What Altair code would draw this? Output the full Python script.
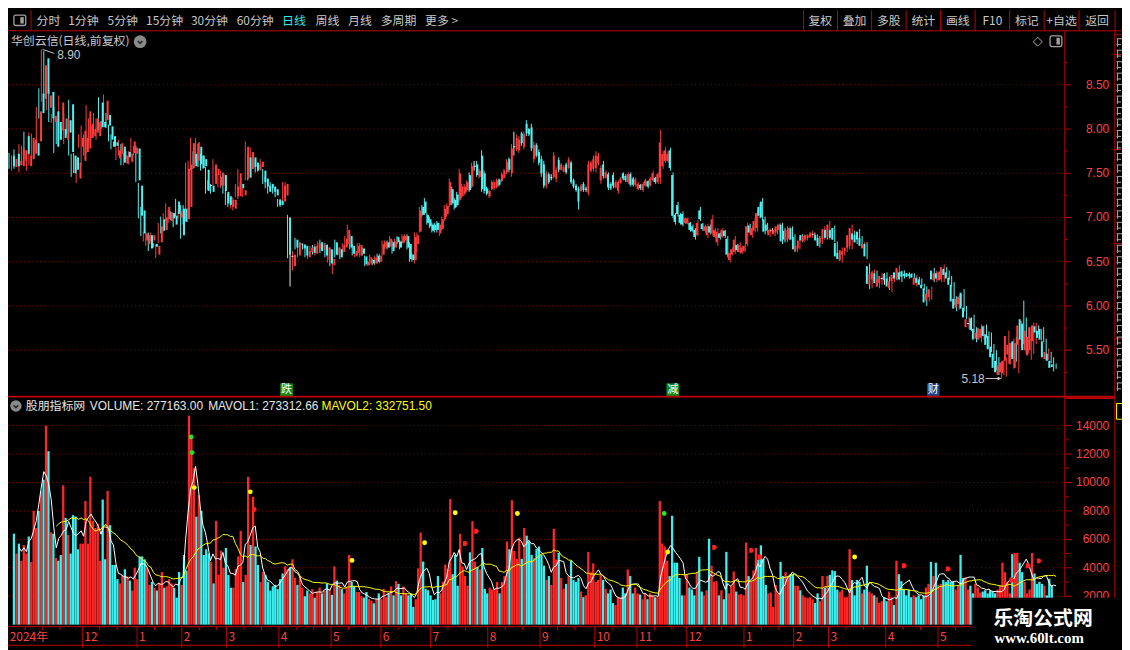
import altair as alt
import pandas as pd

# ---------------------------------------------------------------- data
# daily candles, index 0 = first bar on the left
OPEN = [
    7.70, 7.57, 7.72, 7.59, 7.58, 7.64, 7.92, 7.58, 7.66, 7.72,
    7.84, 7.86, 8.40, 8.34, 8.80, 8.24, 8.42, 8.08, 8.20, 8.08,
    7.98, 8.00, 7.88, 8.10, 8.28, 7.70, 7.68, 7.44, 7.80, 7.64,
    7.74, 7.78, 7.90, 7.92, 7.96, 7.92, 8.30, 8.08, 8.10, 8.16,
    8.03, 7.92, 7.85, 7.67, 7.72, 7.80, 7.61, 7.74, 7.63, 7.73,
    7.72, 7.78, 7.36, 7.08, 6.74, 6.70, 6.80, 6.74, 6.70, 6.58,
    6.72, 6.98, 6.86, 6.98, 6.96, 7.05, 7.02, 7.18, 7.00, 7.10,
    7.10, 6.98, 7.12, 7.56, 7.72, 7.64, 7.80, 7.70, 7.66, 7.54,
    7.36, 7.36, 7.38, 7.48, 7.36, 7.36, 7.48, 7.29, 7.24, 7.12,
    7.10, 7.24, 7.24, 7.38, 7.25, 7.44, 7.68, 7.55, 7.68, 7.62,
    7.53, 7.57, 7.53, 7.44, 7.36, 7.38, 7.35, 7.32, 7.20, 7.19,
    7.18, 7.25, 7.00, 6.56, 6.45, 6.75, 6.57, 6.70, 6.69, 6.68,
    6.55, 6.61, 6.67, 6.59, 6.65, 6.72, 6.63, 6.69, 6.52, 6.64,
    6.46, 6.72, 6.58, 6.64, 6.61, 6.66, 6.70, 6.79, 6.68, 6.56,
    6.60, 6.57, 6.65, 6.56, 6.46, 6.48, 6.52, 6.48, 6.57, 6.50,
    6.58, 6.66, 6.72, 6.67, 6.72, 6.66, 6.78, 6.73, 6.71, 6.74,
    6.79, 6.70, 6.58, 6.52, 6.70, 6.84, 7.12, 7.18, 7.03, 6.98,
    6.92, 6.92, 6.94, 6.82, 6.87, 6.98, 7.04, 7.14, 7.32, 7.20,
    7.26, 7.20, 7.24, 7.27, 7.31, 7.48, 7.35, 7.58, 7.60, 7.46,
    7.70, 7.50, 7.33, 7.24, 7.32, 7.33, 7.35, 7.43, 7.41, 7.45,
    7.51, 7.66, 7.50, 7.80, 7.77, 7.76, 7.95, 7.80, 8.06, 8.00,
    8.02, 7.66, 7.82, 7.74, 7.66, 7.60, 7.36, 7.49, 7.45, 7.46,
    7.44, 7.65, 7.54, 7.52, 7.60, 7.56, 7.62, 7.42, 7.36, 7.33,
    7.30, 7.38, 7.32, 7.28, 7.53, 7.55, 7.56, 7.61, 7.42, 7.60,
    7.45, 7.49, 7.38, 7.48, 7.34, 7.30, 7.39, 7.50, 7.47, 7.40,
    7.49, 7.44, 7.37, 7.32, 7.37, 7.31, 7.36, 7.41, 7.36, 7.42,
    7.45, 7.40, 7.45, 7.58, 7.64, 7.64, 7.76, 7.48, 7.03, 7.14,
    7.03, 7.04, 6.94, 6.93, 6.94, 6.90, 6.86, 6.80, 7.08, 6.93,
    6.85, 6.80, 6.90, 6.82, 6.78, 6.72, 6.82, 6.78, 6.85, 6.76,
    6.52, 6.58, 6.61, 6.69, 6.61, 6.60, 6.62, 6.70, 6.91, 6.80,
    6.85, 6.88, 7.12, 7.18, 6.98, 6.92, 6.80, 6.85, 6.81, 6.83,
    6.86, 6.92, 6.85, 6.74, 6.76, 6.88, 6.78, 6.62, 6.65, 6.80,
    6.73, 6.75, 6.77, 6.78, 6.81, 6.80, 6.77, 6.71, 6.76, 6.86,
    6.78, 6.86, 6.88, 6.71, 6.60, 6.52, 6.58, 6.62, 6.66, 6.68,
    6.82, 6.80, 6.84, 6.77, 6.65, 6.70, 6.45, 6.24, 6.30, 6.37,
    6.22, 6.26, 6.31, 6.36, 6.31, 6.20, 6.28, 6.38, 6.31, 6.38,
    6.39, 6.36, 6.37, 6.36, 6.36, 6.24, 6.32, 6.30, 6.24, 6.20,
    6.06, 6.10, 6.40, 6.29, 6.37, 6.29, 6.30, 6.42, 6.38, 6.32,
    6.24, 6.08, 5.98, 6.02, 6.15, 5.98, 5.76, 5.80, 5.86, 5.74,
    5.63, 5.62, 5.64, 5.77, 5.68, 5.66, 5.54, 5.46, 5.38, 5.22,
    5.25, 5.24, 5.38, 5.45, 5.34, 5.60, 5.30, 5.56, 5.85, 5.80,
    5.50, 5.44, 5.50, 5.60, 5.77, 5.72, 5.74, 5.60, 5.40, 5.46,
    5.38, 5.34,
]
HIGH = [
    7.73, 7.70, 7.77, 7.66, 7.83, 7.81, 7.97, 7.75, 7.96, 7.95,
    7.86, 8.25, 8.46, 8.90, 8.88, 8.42, 8.46, 8.17, 8.25, 8.12,
    8.38, 8.02, 8.18, 8.12, 8.33, 7.72, 7.73, 7.66, 7.94, 8.04,
    7.94, 8.27, 8.12, 8.04, 8.18, 8.12, 8.36, 8.09, 8.39, 8.18,
    8.05, 7.94, 7.86, 7.79, 7.88, 7.83, 7.73, 7.75, 7.75, 7.90,
    7.81, 7.81, 7.39, 7.12, 6.84, 6.84, 6.83, 6.83, 6.71, 6.70,
    6.94, 7.01, 7.05, 7.16, 7.09, 7.07, 7.05, 7.21, 7.09, 7.14,
    7.14, 7.62, 7.64, 7.90, 7.75, 7.90, 7.83, 7.72, 7.70, 7.57,
    7.42, 7.38, 7.66, 7.57, 7.49, 7.53, 7.51, 7.31, 7.27, 7.23,
    7.23, 7.38, 7.55, 7.40, 7.33, 7.86, 7.71, 7.79, 7.70, 7.66,
    7.62, 7.66, 7.55, 7.46, 7.38, 7.40, 7.38, 7.34, 7.21, 7.21,
    7.40, 7.40, 7.03, 6.64, 6.62, 6.77, 6.73, 6.72, 6.70, 6.70,
    6.64, 6.68, 6.69, 6.70, 6.73, 6.75, 6.71, 6.71, 6.70, 6.66,
    6.55, 6.75, 6.68, 6.66, 6.71, 6.79, 6.92, 6.81, 6.70, 6.64,
    6.71, 6.71, 6.66, 6.57, 6.51, 6.58, 6.53, 6.57, 6.59, 6.59,
    6.74, 6.74, 6.74, 6.79, 6.74, 6.76, 6.79, 6.74, 6.81, 6.81,
    6.81, 6.72, 6.59, 6.83, 6.83, 7.12, 7.14, 7.22, 7.05, 7.01,
    6.94, 6.94, 6.96, 6.94, 7.01, 7.14, 7.16, 7.44, 7.35, 7.22,
    7.29, 7.55, 7.38, 7.38, 7.42, 7.51, 7.62, 7.64, 7.64, 7.55,
    7.76, 7.53, 7.35, 7.31, 7.42, 7.42, 7.44, 7.44, 7.51, 7.55,
    7.66, 7.68, 7.83, 7.97, 7.94, 7.92, 7.97, 7.97, 8.10, 8.01,
    8.06, 7.86, 7.84, 7.77, 7.70, 7.64, 7.53, 7.51, 7.49, 7.74,
    7.57, 7.68, 7.62, 7.59, 7.62, 7.68, 7.64, 7.44, 7.38, 7.35,
    7.38, 7.40, 7.35, 7.64, 7.64, 7.70, 7.75, 7.73, 7.59, 7.64,
    7.53, 7.51, 7.40, 7.51, 7.42, 7.42, 7.46, 7.51, 7.49, 7.51,
    7.51, 7.46, 7.45, 7.40, 7.38, 7.40, 7.44, 7.42, 7.46, 7.53,
    7.46, 7.51, 7.99, 7.75, 7.80, 7.75, 7.79, 7.51, 7.05, 7.18,
    7.05, 7.07, 7.00, 7.00, 6.95, 6.92, 6.88, 6.97, 7.12, 6.94,
    6.92, 6.93, 6.92, 7.03, 6.88, 6.88, 6.83, 6.88, 6.86, 6.79,
    6.64, 6.66, 6.79, 6.70, 6.72, 6.68, 6.70, 6.94, 6.93, 6.90,
    6.99, 7.09, 7.16, 7.22, 7.01, 6.94, 6.88, 6.88, 6.88, 6.92,
    6.94, 6.94, 6.88, 6.90, 6.90, 6.90, 6.81, 6.70, 6.77, 6.81,
    6.81, 6.81, 6.81, 6.85, 6.83, 6.81, 6.79, 6.79, 6.90, 6.88,
    6.96, 6.88, 6.91, 6.73, 6.61, 6.66, 6.64, 6.68, 6.85, 6.92,
    6.85, 6.83, 6.87, 6.79, 6.72, 6.72, 6.48, 6.40, 6.41, 6.40,
    6.33, 6.37, 6.37, 6.38, 6.33, 6.33, 6.37, 6.40, 6.46, 6.40,
    6.40, 6.37, 6.38, 6.37, 6.37, 6.35, 6.33, 6.31, 6.25, 6.22,
    6.18, 6.22, 6.43, 6.40, 6.39, 6.40, 6.47, 6.44, 6.40, 6.34,
    6.27, 6.11, 6.12, 6.13, 6.19, 6.00, 5.88, 5.87, 5.90, 5.76,
    5.73, 5.79, 5.78, 5.79, 5.71, 5.70, 5.57, 5.50, 5.42, 5.37,
    5.39, 5.42, 5.72, 5.59, 5.63, 5.65, 5.63, 5.83, 6.06, 5.87,
    5.76, 5.70, 5.81, 5.81, 5.78, 5.74, 5.76, 5.63, 5.52, 5.48,
    5.42, 5.35,
]
LOW = [
    7.55, 7.53, 7.55, 7.58, 7.51, 7.60, 7.68, 7.53, 7.59, 7.68,
    7.66, 7.83, 8.12, 8.31, 8.36, 8.21, 8.08, 8.07, 7.73, 7.83,
    7.94, 7.88, 7.83, 7.94, 7.70, 7.46, 7.50, 7.39, 7.79, 7.59,
    7.70, 7.73, 7.86, 7.90, 7.94, 7.88, 7.99, 8.00, 8.08, 8.01,
    7.86, 7.77, 7.80, 7.65, 7.70, 7.59, 7.59, 7.66, 7.60, 7.71,
    7.70, 7.40, 6.99, 6.79, 6.73, 6.68, 6.62, 6.73, 6.66, 6.54,
    6.71, 6.82, 6.84, 6.96, 6.94, 6.97, 6.89, 7.01, 6.98, 6.76,
    6.92, 6.96, 7.09, 7.53, 7.55, 7.62, 7.57, 7.53, 7.55, 7.27,
    7.31, 7.27, 7.36, 7.46, 7.34, 7.33, 7.27, 7.14, 7.12, 7.10,
    7.08, 7.23, 7.21, 7.31, 7.23, 7.42, 7.42, 7.53, 7.55, 7.51,
    7.51, 7.55, 7.38, 7.33, 7.27, 7.31, 7.27, 7.23, 7.12, 7.12,
    7.16, 7.23, 6.54, 6.22, 6.40, 6.64, 6.55, 6.68, 6.64, 6.55,
    6.53, 6.60, 6.58, 6.57, 6.64, 6.60, 6.62, 6.55, 6.49, 6.45,
    6.36, 6.55, 6.57, 6.53, 6.60, 6.64, 6.68, 6.64, 6.57, 6.55,
    6.58, 6.55, 6.57, 6.45, 6.45, 6.46, 6.46, 6.46, 6.48, 6.48,
    6.57, 6.64, 6.64, 6.66, 6.59, 6.66, 6.70, 6.64, 6.70, 6.72,
    6.64, 6.50, 6.50, 6.48, 6.61, 6.83, 7.01, 7.03, 6.92, 6.88,
    6.83, 6.83, 6.83, 6.79, 6.85, 6.96, 7.01, 7.12, 7.14, 7.09,
    7.12, 7.18, 7.22, 7.25, 7.29, 7.29, 7.33, 7.53, 7.46, 7.44,
    7.29, 7.27, 7.25, 7.22, 7.31, 7.31, 7.33, 7.35, 7.40, 7.44,
    7.49, 7.51, 7.46, 7.70, 7.75, 7.73, 7.81, 7.77, 7.92, 7.92,
    7.75, 7.62, 7.68, 7.59, 7.46, 7.33, 7.33, 7.38, 7.42, 7.44,
    7.40, 7.51, 7.53, 7.51, 7.49, 7.55, 7.38, 7.33, 7.29, 7.09,
    7.29, 7.29, 7.29, 7.25, 7.51, 7.52, 7.51, 7.59, 7.38, 7.44,
    7.44, 7.31, 7.31, 7.33, 7.33, 7.27, 7.38, 7.42, 7.40, 7.38,
    7.35, 7.35, 7.35, 7.31, 7.31, 7.29, 7.35, 7.33, 7.35, 7.40,
    7.38, 7.38, 7.38, 7.55, 7.62, 7.62, 7.53, 6.99, 6.92, 7.01,
    6.92, 6.90, 6.93, 6.92, 6.84, 6.83, 6.75, 6.79, 6.96, 6.85,
    6.83, 6.77, 6.81, 6.79, 6.77, 6.68, 6.75, 6.77, 6.77, 6.55,
    6.49, 6.57, 6.59, 6.61, 6.59, 6.59, 6.61, 6.68, 6.81, 6.77,
    6.83, 6.84, 6.99, 6.96, 6.81, 6.83, 6.78, 6.83, 6.79, 6.81,
    6.84, 6.70, 6.72, 6.72, 6.74, 6.72, 6.61, 6.61, 6.64, 6.72,
    6.72, 6.74, 6.77, 6.77, 6.79, 6.72, 6.66, 6.70, 6.75, 6.75,
    6.75, 6.75, 6.72, 6.53, 6.51, 6.49, 6.57, 6.61, 6.64, 6.64,
    6.72, 6.70, 6.72, 6.66, 6.64, 6.53, 6.19, 6.20, 6.29, 6.22,
    6.20, 6.24, 6.24, 6.27, 6.18, 6.16, 6.27, 6.29, 6.29, 6.27,
    6.31, 6.33, 6.31, 6.33, 6.31, 6.22, 6.24, 6.22, 6.18, 6.00,
    6.05, 6.07, 6.27, 6.27, 6.29, 6.27, 6.27, 6.33, 6.29, 6.22,
    6.01, 5.94, 5.96, 6.00, 5.94, 5.85, 5.74, 5.72, 5.70, 5.59,
    5.62, 5.59, 5.62, 5.64, 5.53, 5.48, 5.39, 5.27, 5.22, 5.18,
    5.22, 5.20, 5.35, 5.42, 5.29, 5.37, 5.24, 5.53, 5.57, 5.46,
    5.46, 5.39, 5.46, 5.57, 5.68, 5.61, 5.59, 5.39, 5.39, 5.35,
    5.26, 5.29,
]
CLOSE = [
    7.58, 7.66, 7.58, 7.64, 7.78, 7.76, 7.72, 7.70, 7.90, 7.88,
    7.70, 8.20, 8.18, 8.72, 8.40, 8.38, 8.12, 8.15, 7.80, 7.88,
    8.30, 7.90, 8.12, 7.96, 7.74, 7.50, 7.54, 7.62, 7.90, 7.98,
    7.90, 8.20, 8.06, 8.00, 8.12, 8.08, 8.02, 8.02, 8.32, 8.04,
    7.88, 7.80, 7.81, 7.76, 7.84, 7.62, 7.70, 7.68, 7.72, 7.86,
    7.79, 7.42, 7.02, 6.82, 6.82, 6.80, 6.65, 6.80, 6.67, 6.68,
    6.90, 6.85, 7.00, 7.12, 7.06, 6.99, 6.92, 7.04, 7.07, 6.80,
    6.95, 7.55, 7.60, 7.84, 7.58, 7.85, 7.60, 7.56, 7.58, 7.30,
    7.36, 7.29, 7.60, 7.55, 7.46, 7.50, 7.30, 7.16, 7.14, 7.20,
    7.20, 7.35, 7.50, 7.33, 7.31, 7.80, 7.45, 7.74, 7.57, 7.53,
    7.60, 7.63, 7.40, 7.35, 7.29, 7.33, 7.29, 7.25, 7.14, 7.14,
    7.36, 7.38, 6.58, 6.56, 6.58, 6.66, 6.70, 6.70, 6.65, 6.57,
    6.62, 6.66, 6.60, 6.68, 6.71, 6.62, 6.69, 6.57, 6.66, 6.48,
    6.53, 6.58, 6.66, 6.55, 6.69, 6.76, 6.86, 6.66, 6.59, 6.62,
    6.68, 6.69, 6.59, 6.47, 6.50, 6.55, 6.48, 6.55, 6.50, 6.57,
    6.70, 6.72, 6.66, 6.76, 6.62, 6.73, 6.72, 6.66, 6.79, 6.79,
    6.66, 6.53, 6.52, 6.78, 6.80, 7.08, 7.03, 7.05, 6.94, 6.90,
    6.85, 6.86, 6.86, 6.92, 6.98, 7.10, 7.13, 7.40, 7.16, 7.11,
    7.14, 7.50, 7.35, 7.35, 7.40, 7.31, 7.58, 7.58, 7.48, 7.53,
    7.32, 7.30, 7.27, 7.30, 7.40, 7.40, 7.42, 7.37, 7.49, 7.53,
    7.63, 7.54, 7.78, 7.80, 7.90, 7.88, 7.84, 7.94, 7.95, 7.94,
    7.78, 7.82, 7.70, 7.62, 7.50, 7.36, 7.50, 7.40, 7.45, 7.70,
    7.54, 7.54, 7.60, 7.57, 7.51, 7.65, 7.40, 7.35, 7.31, 7.18,
    7.36, 7.31, 7.32, 7.60, 7.62, 7.66, 7.70, 7.70, 7.56, 7.47,
    7.51, 7.34, 7.33, 7.36, 7.40, 7.40, 7.44, 7.44, 7.42, 7.49,
    7.37, 7.37, 7.43, 7.38, 7.33, 7.38, 7.42, 7.35, 7.44, 7.50,
    7.40, 7.49, 7.85, 7.72, 7.76, 7.72, 7.56, 7.02, 6.95, 7.04,
    6.94, 6.92, 6.99, 6.99, 6.86, 6.85, 6.78, 6.94, 6.98, 6.87,
    6.90, 6.90, 6.83, 6.98, 6.86, 6.84, 6.77, 6.86, 6.79, 6.58,
    6.60, 6.64, 6.75, 6.63, 6.69, 6.66, 6.68, 6.90, 6.83, 6.88,
    6.96, 7.05, 7.02, 7.00, 6.84, 6.85, 6.86, 6.85, 6.86, 6.90,
    6.92, 6.73, 6.75, 6.86, 6.88, 6.75, 6.64, 6.68, 6.74, 6.74,
    6.79, 6.80, 6.80, 6.83, 6.81, 6.74, 6.68, 6.77, 6.87, 6.77,
    6.92, 6.77, 6.75, 6.56, 6.53, 6.63, 6.62, 6.66, 6.80, 6.88,
    6.75, 6.72, 6.75, 6.68, 6.70, 6.56, 6.25, 6.36, 6.38, 6.26,
    6.30, 6.34, 6.31, 6.29, 6.22, 6.28, 6.35, 6.31, 6.43, 6.30,
    6.33, 6.34, 6.33, 6.34, 6.32, 6.32, 6.26, 6.24, 6.20, 6.04,
    6.14, 6.19, 6.30, 6.37, 6.31, 6.38, 6.44, 6.35, 6.31, 6.24,
    6.05, 5.97, 6.08, 6.10, 5.97, 5.87, 5.85, 5.80, 5.73, 5.62,
    5.70, 5.75, 5.74, 5.66, 5.56, 5.51, 5.42, 5.30, 5.25, 5.33,
    5.36, 5.38, 5.66, 5.56, 5.58, 5.40, 5.58, 5.78, 5.62, 5.50,
    5.72, 5.65, 5.76, 5.78, 5.70, 5.64, 5.62, 5.42, 5.48, 5.38,
    5.30, 5.31,
]
# volume in the units of the right-hand axis
VOLUME = [
    6400, 5000, 5700, 4500, 5600, 5000, 6200, 4400, 8000, 6800,
    8000, 9400, 10200, 14000, 12200, 6500, 6400, 4700, 4500, 4900,
    9800, 7500, 6300, 5000, 7700, 7600, 5300, 5700, 5700, 8700,
    5700, 10400, 7300, 6800, 7100, 4500, 8800, 4600, 9400, 7000,
    4200, 4200, 3200, 2900, 3500, 3900, 3400, 3100, 2400, 4000,
    3200, 4800, 4800, 4600, 4000, 2800, 3000, 2600, 2400, 2900,
    3700, 2600, 2700, 3200, 2900, 2600, 1900, 3700, 2800, 4900,
    3800, 14700, 13300, 11000, 7600, 9100, 8000, 4900, 5300, 5000,
    4400, 2900, 7300, 3500, 5200, 4000, 5400, 3500, 2600, 2600,
    3900, 4800, 6600, 3000, 3500, 10400, 5600, 9000, 5500, 4200,
    3000, 3700, 3500, 3000, 2400, 2700, 2800, 2500, 3200, 3600,
    4100, 3900, 4000, 4600, 3300, 2800, 3400, 2600, 2000, 2400,
    2200, 2500, 1900, 2300, 2600, 2200, 2400, 2900, 2500, 2100,
    4100, 3100, 2800, 2500, 2200, 2600, 4900, 3000, 2700, 2300,
    2300, 2000, 1900, 2300, 1800, 1700, 1500, 1790, 2200, 1790,
    2520, 1930, 2200, 2690, 2060, 3060, 2870, 2060, 2690, 2200,
    2060, 2200, 1250, 1790, 3960, 6470, 4440, 2520, 2420, 2060,
    1740, 1790, 3420, 2200, 3010, 4230, 3880, 8830, 3550, 4910,
    2740, 6390, 4090, 3420, 2740, 5090, 7280, 4420, 4040, 3880,
    5390, 2520, 2200, 2610, 2470, 2520, 3010, 2200, 3010, 3420,
    5850, 5310, 8750, 5180, 4630, 6120, 4630, 6800, 6260, 5850,
    4910, 4690, 5310, 5500, 4910, 4150, 3150, 3420, 2800, 6740,
    4580, 5040, 3280, 2520, 2870, 3420, 4500, 3150, 3010, 3280,
    2330, 1930, 2060, 5120, 3690, 4310, 3010, 3150, 3550, 3150,
    2520, 2200, 2470, 1520, 1380, 1930, 1930, 2610, 2200, 3880,
    3420, 2200, 2610, 2200, 2120, 1790, 2200, 1790, 2200, 2060,
    1930, 1930, 8690, 5710, 5500, 4500, 3420, 7660, 4360, 4360,
    3280, 2060, 2060, 3550, 2610, 2470, 2060, 3690, 4770, 2330,
    2060, 2420, 6040, 4150, 3010, 3060, 2060, 2420, 1790, 5120,
    2200, 2740, 3740, 2330, 2120, 2150, 2060, 5770, 3420, 3060,
    3820, 5390, 4580, 5580, 4630, 2800, 2200, 2260, 1250, 2800,
    2200, 4420, 3420, 3690, 3420, 3550, 3550, 2740, 2740, 2420,
    2060, 1930, 1870, 1930, 1790, 1520, 2200, 1650, 3420, 2610,
    3420, 3500, 3820, 3770, 2470, 2330, 2470, 1930, 1930, 5310,
    3150, 2060, 3150, 3010, 2200, 2470, 4150, 2330, 2200, 2060,
    1930, 1520, 1650, 1930, 1650, 2330, 1930, 1380, 4500, 3550,
    3060, 2520, 2060, 2470, 1930, 2060, 1930, 2060, 1790, 2060,
    2610, 2870, 4420, 3420, 4360, 2800, 2870, 3150, 3010, 3150,
    3010, 3010, 2470, 2740, 4910, 3280, 3330, 2470, 2740, 2200,
    2870, 2610, 2260, 2330, 2420, 2200, 2420, 2330, 2200, 2470,
    2740, 4360, 3690, 3010, 2200, 4960, 5040, 5040, 4360, 3690,
    3010, 2200, 2470, 5040, 3600, 2870, 3010, 2870, 2740, 2060,
    3230, 2772,
]

PRICE_TICKS = [5.5, 6.0, 6.5, 7.0, 7.5, 8.0, 8.5]
PRICE_MINOR = [5.25, 5.75, 6.25, 6.75, 7.25, 7.75, 8.25, 8.75]
VOL_TICKS = [2000, 4000, 6000, 8000, 10000, 12000, 14000]
VOL_MINOR = [1000, 3000, 5000, 7000, 9000, 11000, 13000]

# month boundaries on the date strip (later months sit under the watermark)
MONTH_LABELS = ["2024年", "12", "1", "2", "3", "4", "5", "6", "7", "8", "9",
                "10", "11", "12", "1", "2", "3", "4", "5"]
MONTH_START = [0, 30, 52, 70, 88, 109, 130, 150, 170, 193, 214,
               236, 253, 273, 296, 316, 330, 353, 374]

# signal dots / flags above the volume bars
MARK_AT = [73.2, 73.6, 74.5, 97.0, 98.7, 137.9, 167.1, 179.4, 183.5, 188.0, 204.4,
           263.4, 264.8, 283.7, 298.6, 302.1, 340.0, 360.0, 377.7, 403.2, 409.8, 414.2]
MARK_VOL = [13200, 12100, 9640, 9340, 8100, 4520, 5760, 7870, 5710, 6570, 7820,
            7820, 5110, 5440, 5220, 4760, 4760, 4140, 3920, 3140, 4140, 4490]
MARK_KIND = ["g", "g", "y", "y", "r", "y", "y", "y", "r", "r", "y",
             "g", "y", "r", "r", "r", "y", "r", "r", "r", "r", "r"]

# info boxes at the foot of the price panel
EVENT_AT = [111.6, 266.9, 371.6]
EVENT_TEXT = ["跌", "减", "财"]
EVENT_KIND = ["g", "g", "b"]

# ---------------------------------------------------------------- geometry
# the 1130x650 reference is squeezed into the 1122x642 area left by the page margin
W, H = 1122, 642
SX, SY = W / 1130, H / 650
STEP = 2.523               # px between candles in the reference
P_Y0, P_K = 76.0, 90.2     # y of 8.50, px per 1.00 yuan
V_Y0, V_K = 626.5, 0.0145  # y of zero volume, px per volume unit

xs = alt.Scale(domain=[-1 / STEP, 1129 / STEP], nice=False, zero=False)
ps = alt.Scale(domain=[8.5 - (650 - P_Y0) / P_K, 8.5 + P_Y0 / P_K], nice=False, zero=False)
vs = alt.Scale(domain=[(V_Y0 - 650) / V_K, V_Y0 / V_K], nice=False, zero=False)

CJK = "Noto Sans CJK SC"
NUM = "Liberation Sans"
TXT = "#c8c8c8"
LINE = "#c00000"
GRID = "#9c0000"
AXIS_TXT = "#ff4040"
UP, DOWN, FLAT = "#ff3b3b", "#52f2f2", "#e8e8e8"
VUP, VDOWN = "#ff2626", "#3af0f0"

n = len(CLOSE)
assert len(OPEN) == len(HIGH) == len(LOW) == len(VOLUME) == n

df = pd.DataFrame({"i": range(n), "o": OPEN, "h": HIGH, "l": LOW, "c": CLOSE, "v": VOLUME})
df["dir"] = ["up" if c > o else ("down" if c < o else "flat") for o, c in zip(OPEN, CLOSE)]
df["vdir"] = ["down" if c < o else "up" for o, c in zip(OPEN, CLOSE)]
df["top"] = df[["o", "c"]].max(axis=1) + (df["dir"] == "flat") * 0.006
df["bot"] = df[["o", "c"]].min(axis=1) - (df["dir"] == "flat") * 0.006
df["zero"] = 0

X = alt.X("i:Q", scale=xs, axis=None)
candle_color = alt.Color("dir:N", scale=alt.Scale(domain=["up", "down", "flat"],
                                                  range=[UP, DOWN, FLAT]), legend=None)


def rules(rows, width=1.0):
    d = pd.DataFrame(rows, columns=["x", "y", "x2", "y2", "c"])
    d[["x", "x2"]] *= SX
    d[["y", "y2"]] *= SY
    return alt.Chart(d).mark_rule(strokeWidth=width).encode(
        x=alt.X("x:Q", scale=None), x2="x2:Q",
        y=alt.Y("y:Q", scale=None), y2="y2:Q",
        color=alt.Color("c:N", scale=None))


def rects(rows, **kw):
    d = pd.DataFrame(rows, columns=["x", "y", "x2", "y2", "c"])
    d[["x", "x2"]] *= SX
    d[["y", "y2"]] *= SY
    return alt.Chart(d).mark_rect(**kw).encode(
        x=alt.X("x:Q", scale=None), x2="x2:Q",
        y=alt.Y("y:Q", scale=None), y2="y2:Q",
        color=alt.Color("c:N", scale=None))


def texts(rows, size=12, font=CJK, align="left", weight="normal"):
    d = pd.DataFrame(rows, columns=["t", "x", "y", "c"])
    d["x"] *= SX
    d["y"] *= SY
    return alt.Chart(d).mark_text(align=align, baseline="middle", fontSize=size,
                                  font=font, fontWeight=weight).encode(
        x=alt.X("x:Q", scale=None), y=alt.Y("y:Q", scale=None),
        text="t:N", color=alt.Color("c:N", scale=None))


layers = []

# ---- grid (behind everything)
layers.append(alt.Chart(pd.DataFrame({"p": PRICE_TICKS})).mark_rule(
    color=GRID, strokeDash=[1, 3]).encode(
    y=alt.Y("p:Q", scale=ps, axis=None), x=alt.value(0), x2=alt.value(1071 * SX)))
layers.append(alt.Chart(pd.DataFrame({"v": VOL_TICKS})).mark_rule(
    color=GRID, strokeDash=[1, 3]).encode(
    y=alt.Y("v:Q", scale=vs, axis=None), x=alt.value(0), x2=alt.value(1072 * SX)))

# ---- candles
layers.append(alt.Chart(df).mark_rule(strokeWidth=1).encode(
    x=X, y=alt.Y("l:Q", scale=ps, axis=None), y2="h:Q", color=candle_color))
layers.append(alt.Chart(df).mark_bar(size=2).encode(
    x=X, y=alt.Y("bot:Q", scale=ps, axis=None), y2="top:Q", color=candle_color))

# ---- volume bars and averages
layers.append(alt.Chart(df).mark_bar(size=2.3).encode(
    x=X, y=alt.Y("v:Q", scale=vs, axis=None), y2="zero:Q",
    color=alt.Color("vdir:N", scale=alt.Scale(domain=["up", "down"], range=[VUP, VDOWN]),
                    legend=None)))
for span, col in [(5, "#ffffff"), (20, "#ffff00")]:
    layers.append(alt.Chart(df).transform_window(
        ma="mean(v)", frame=[-(span - 1), 0], sort=[alt.SortField("i")]
    ).transform_filter(f"datum.i >= {span - 1}").mark_line(
        color=col, strokeWidth=1).encode(x=X, y=alt.Y("ma:Q", scale=vs, axis=None)))

FLAG = "M-1,-1L0.3,-1L1,0L0.3,1L-1,1Z"
marks = pd.DataFrame({"at": MARK_AT, "vol": MARK_VOL, "kind": MARK_KIND})
layers.append(alt.Chart(marks).mark_point(filled=True, opacity=1, size=24).encode(
    x=alt.X("at:Q", scale=xs, axis=None), y=alt.Y("vol:Q", scale=vs, axis=None),
    color=alt.Color("kind:N", scale=alt.Scale(domain=["g", "y", "r"],
                                              range=["#22e822", "#ffff00", "#ff2020"]), legend=None),
    shape=alt.Shape("kind:N", scale=alt.Scale(domain=["g", "y", "r"],
                                              range=["circle", "circle", FLAG]), legend=None)))

# ---- high / low annotations
hi_i = HIGH.index(max(HIGH))
lo_i = LOW.index(min(LOW))
ann = pd.DataFrame({
    "x": [hi_i + 0.5, lo_i - 16 / STEP], "x2": [hi_i + 13 / STEP, lo_i - 1.5 / STEP],
    "y": [max(HIGH), min(LOW)], "y2": [max(HIGH) - 4 / P_K, min(LOW)],
})
layers.append(alt.Chart(ann).mark_rule(color=TXT, strokeWidth=1).encode(
    x=alt.X("x:Q", scale=xs, axis=None), x2="x2:Q",
    y=alt.Y("y:Q", scale=ps, axis=None), y2="y2:Q"))
layers.append(alt.Chart(pd.DataFrame({"x": [lo_i - 2 / STEP], "y": [min(LOW)]})).mark_point(
    shape="triangle-right", filled=True, size=18, color=TXT, opacity=1).encode(
    x=alt.X("x:Q", scale=xs, axis=None), y=alt.Y("y:Q", scale=ps, axis=None)))
layers.append(alt.Chart(pd.DataFrame({"x": [hi_i], "y": [max(HIGH)], "t": [f"{max(HIGH):.2f}"]})).mark_text(
    align="left", baseline="middle", dx=16, dy=6, fontSize=12, font=NUM, color=TXT).encode(
    x=alt.X("x:Q", scale=xs, axis=None), y=alt.Y("y:Q", scale=ps, axis=None), text="t:N"))
layers.append(alt.Chart(pd.DataFrame({"x": [lo_i - 16 / STEP], "y": [min(LOW)], "t": [f"{min(LOW):.2f}"]})).mark_text(
    align="right", baseline="middle", dx=-1, dy=1, fontSize=12, font=NUM, color=TXT).encode(
    x=alt.X("x:Q", scale=xs, axis=None), y=alt.Y("y:Q", scale=ps, axis=None), text="t:N"))

# ---- info boxes
ev = pd.DataFrame({"at": EVENT_AT, "t": EVENT_TEXT, "k": EVENT_KIND})
layers.append(alt.Chart(ev).mark_point(shape="square", filled=True, opacity=1, size=165).encode(
    x=alt.X("at:Q", scale=xs, axis=None), y=alt.value(387 * SY),
    color=alt.Color("k:N", scale=alt.Scale(domain=["g", "b"], range=["#128a12", "#1b4486"]),
                    legend=None)))
layers.append(alt.Chart(ev).mark_text(fontSize=11, font=CJK, color="#ffffff", baseline="middle").encode(
    x=alt.X("at:Q", scale=xs, axis=None), y=alt.value(387 * SY), text="t:N"))

# ---- right axes
pt = pd.DataFrame({"p": PRICE_TICKS, "t": [f"{p:.2f}" for p in PRICE_TICKS]})
layers.append(alt.Chart(pt).mark_text(align="right", baseline="middle", fontSize=12,
                                      font=NUM, color=AXIS_TXT).encode(
    y=alt.Y("p:Q", scale=ps, axis=None), x=alt.value(1117 * SX), text="t:N"))
layers.append(alt.Chart(pt).mark_rule(color=LINE).encode(
    y=alt.Y("p:Q", scale=ps, axis=None), x=alt.value(1072 * SX), x2=alt.value(1078 * SX)))
layers.append(alt.Chart(pd.DataFrame({"p": PRICE_MINOR})).mark_rule(color=LINE).encode(
    y=alt.Y("p:Q", scale=ps, axis=None), x=alt.value(1072 * SX), x2=alt.value(1075 * SX)))
vt = pd.DataFrame({"v": VOL_TICKS, "t": [str(v) for v in VOL_TICKS]})
layers.append(alt.Chart(vt).mark_text(align="right", baseline="middle", fontSize=12,
                                      font=NUM, color=AXIS_TXT).encode(
    y=alt.Y("v:Q", scale=vs, axis=None), x=alt.value(1117 * SX), text="t:N"))
layers.append(alt.Chart(vt).mark_rule(color=LINE).encode(
    y=alt.Y("v:Q", scale=vs, axis=None), x=alt.value(1073 * SX), x2=alt.value(1079 * SX)))
layers.append(alt.Chart(pd.DataFrame({"v": VOL_MINOR})).mark_rule(color=LINE).encode(
    y=alt.Y("v:Q", scale=vs, axis=None), x=alt.value(1073 * SX), x2=alt.value(1076 * SX)))

# ---- date axis
mt = pd.DataFrame({"m": [s - 0.5 for s in MONTH_START], "t": MONTH_LABELS})
layers.append(alt.Chart(mt).mark_rule(color=LINE).encode(
    x=alt.X("m:Q", scale=xs, axis=None), y=alt.value(628.5 * SY), y2=alt.value(650 * SY)))
layers.append(alt.Chart(mt).mark_text(align="left", baseline="middle", dx=2, fontSize=12,
                                      font=CJK, color=AXIS_TXT).encode(
    x=alt.X("m:Q", scale=xs, axis=None), y=alt.value(639 * SY), text="t:N"))
minor = []
for a, b in zip(MONTH_START, MONTH_START[1:] + [n]):
    minor += [a + k - 0.5 for k in (7, 14, 21) if a + k < b - 3]
layers.append(alt.Chart(pd.DataFrame({"m": minor})).mark_rule(color=LINE).encode(
    x=alt.X("m:Q", scale=xs, axis=None), y=alt.value(628.5 * SY), y2=alt.value(632 * SY)))

# ---- frame lines
frame = [
    (0, 20.9, 1130, 20.9, LINE), (23.4, 0, 23.4, 20.9, LINE),
    (1072, 20.9, 1072, 629, LINE), (1122.7, 20.9, 1122.7, 650, LINE),
    (0, 628.5, 1122, 628.5, LINE), (0, 647.5, 1122, 647.5, LINE),
] + [(x, 0, x, 20.9, LINE) for x in [807, 841.4, 876, 911, 946, 981, 1016, 1051, 1086.4, 1123]] \
  + [(1123, y, 1130, y, LINE) for y in [25, 45, 142, 238, 335]]
layers.append(rules(frame, 1))
layers.append(rules([(0, 394, 1122, 394, LINE), (1073, 395.5, 1122, 395.5, LINE)], 1.8))

# clipped quote column at the far right: only slivers of its glyphs show
sliver = []
for k in range(31):
    y = 33 + 11.7 * k
    sliver += [(1124.5, y - 4, 1130, y - 4, "#a8a8a8"), (1125.5, y - 4, 1125.5, y + 4, "#a8a8a8"),
               (1124.5, y + 2, 1129, y + 2, "#a8a8a8")]
layers.append(rules(sliver, 1))
layers.append(rects([(1124.5, 401, 1131, 417, "#ffff00")], filled=False, strokeWidth=1))

# ---- toolbar and headers
layers.append(texts([
    ("分时", 29, 10.5, TXT), ("1分钟", 61, 10.5, TXT), ("5分钟", 101, 10.5, TXT),
    ("15分钟", 140, 10.5, TXT), ("30分钟", 185.6, 10.5, TXT), ("60分钟", 232, 10.5, TXT),
    ("日线", 278, 10.5, "#34e6e6"), ("周线", 312, 10.5, TXT), ("月线", 345, 10.5, TXT),
    ("多周期", 378, 10.5, TXT), ("更多 >", 423, 10.5, TXT),
], size=12))
layers.append(texts([
    ("复权", 824, 10.5, TXT), ("叠加", 858.7, 10.5, TXT), ("多股", 893.5, 10.5, TXT),
    ("统计", 928.5, 10.5, TXT), ("画线", 963.5, 10.5, TXT), ("F10", 998.5, 10.5, TXT),
    ("标记", 1033.5, 10.5, TXT), ("+自选", 1068.7, 10.5, TXT), ("返回", 1104.7, 10.5, TXT),
], size=12, align="center"))
layers.append(texts([("华创云信(日线,前复权)", 3, 31.5, TXT)], size=12))
layers.append(texts([("◇", 1044.5, 31.5, "#a0a0a0")], size=13, font="DejaVu Sans", align="center"))
layers.append(texts([("股朋指标网", 18, 403.5, "#e6e6e6")], size=12))
layers.append(texts([
    ("VOLUME: 277163.00", 83, 403.5, "#e6e6e6"),
    ("MAVOL1: 273312.66", 203, 403.5, "#e6e6e6"), ("MAVOL2: 332751.50", 318, 403.5, "#ffff00"),
], size=12, font=NUM))

# small icons
icons = pd.DataFrame({"x": [134 * SX, 8 * SX], "y": [32 * SY, 403.5 * SY], "s": [165, 130]})
layers.append(alt.Chart(icons).mark_point(shape="circle", filled=True, opacity=1, color="#8a8a8a").encode(
    x=alt.X("x:Q", scale=None), y=alt.Y("y:Q", scale=None), size=alt.Size("s:Q", scale=None)))
chev = pd.DataFrame({"x": [134 * SX, 8 * SX], "y": [32.5 * SY, 404 * SY]})
layers.append(alt.Chart(chev).mark_point(shape="M-1,-0.5L0,0.5L1,-0.5", filled=False, size=22,
                                         color="#2a2a2a", strokeWidth=1.6, opacity=1).encode(
    x=alt.X("x:Q", scale=None), y=alt.Y("y:Q", scale=None)))
layers.append(rects([(6, 5, 18, 15.5, "#a0a0a0"), (1057, 26, 1069, 37, "#a0a0a0")],
                    filled=False, cornerRadius=2, strokeWidth=1.3))
layers.append(rects([(12.5, 7, 16, 13.5, "#a0a0a0"), (1063.5, 28, 1067, 35, "#a0a0a0")]))

# ---- watermark
layers.append(rects([(978, 599, 1130, 650, "#000000")]))
layers.append(texts([("乐淘公式网", 1050, 620.5, "#ffffff")], size=20, align="center", weight="bold"))
layers.append(texts([("www.60lt.com", 1046, 640.5, "#ffffff")], size=15, font="Liberation Serif",
                    align="center", weight="bold"))

chart = alt.layer(*layers).resolve_scale(
    x="independent", y="independent", color="independent", shape="independent", size="independent"
).properties(
    width=W, height=H, padding=0, background="#000000",
    autosize=alt.AutoSizeParams(type="none"),
).configure_view(strokeWidth=0)

chart.save("out.html", embed_options={"renderer": "svg", "actions": False})
